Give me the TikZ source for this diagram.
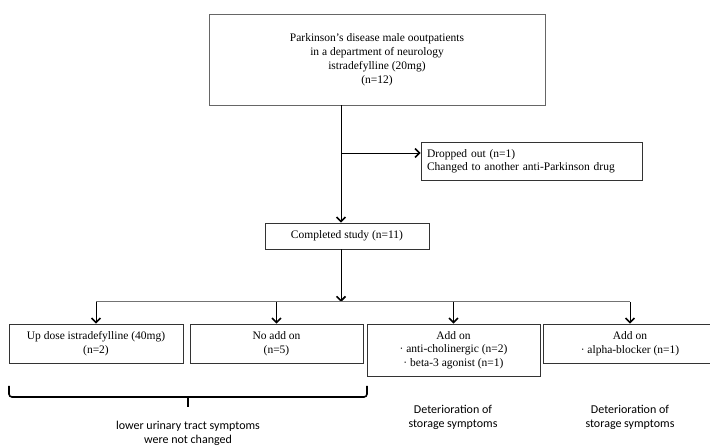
\documentclass[tikz,border=0pt]{standalone}
\usepackage{fontspec}
\setmainfont{Liberation Serif}
\newfontfamily\calibri{Carlito}
\usetikzlibrary{arrows.meta}

\begin{document}
\begin{tikzpicture}[x=1pt, y=-1pt,
  box/.style={draw=black!80, line width=0.7pt, align=center, inner sep=0pt, font=\fontsize{11.5}{14}\selectfont},
  arr/.style={-{Straight Barb[length=4.5pt,width=9pt,line width=1.6pt]}, line width=0.7pt},
  note/.style={align=center, font=\calibri\fontsize{12}{14}\selectfont}]
  \useasboundingbox (0,0) rectangle (710,446);

  \node[box, minimum width=336, minimum height=91, draw=black!60, line width=0.9pt] (pd) at (377,59.5)
    {Parkinson’s disease male ooutpatients\\in a department of neurology\\istradefylline (20mg)\\(n=12)};
  \node[box, minimum width=221, minimum height=38, align=left, text width=209, font=\fontsize{11.5}{13}\selectfont] (drop) at (531.5,161)
    {Dropped out (n=1)\\Changed to another anti-Parkinson drug};
  \node[box, minimum width=164, minimum height=26] (done) at (347,236) {Completed study (n=11)};

  \node[box, minimum width=174, minimum height=39] (updose) at (96,343.5) {Up dose istradefylline (40mg)\\(n=2)};
  \node[box, minimum width=173, minimum height=39] (noadd) at (276.5,343.5) {No add on\\(n=5)};
  \node[box, minimum width=173, minimum height=52, font=\fontsize{11.5}{13.5}\selectfont] (addac) at (453.5,350)
    {Add on\\· anti-cholinergic (n=2)\\· beta-3 agonist (n=1)};
  \node[box, minimum width=174, minimum height=39] (addab) at (630,343.5) {Add on\\· alpha-blocker (n=1)};

  % main line and drop out branch
  \coordinate (split) at (341,153);
  \draw[line width=0.7pt] (pd.south -| split) -- (split);
  \draw[arr] (split) -- (split -| drop.west);
  \draw[arr] (split) -- (done.north -| split);

  % bus to the four groups
  \coordinate (bus) at (341,302);
  \draw[arr] (done.south -| bus) -- (bus);
  \draw[draw=black!55, line width=1pt] (updose.north |- bus) -- (addab.north |- bus);
  \foreach \g in {updose,noadd,addac,addab}
    \draw[arr] (\g.north |- bus) -- (\g.north);

  % brace under first two groups
  \draw[line width=1.6pt, rounded corners=3pt] (9,386) -- (9,397) -- (367,397) -- (367,386);
  \draw[line width=1.6pt] (188,397) -- (188,407);

  \node[note] (same) at (188,433) {lower urinary tract symptoms\\were not changed};
  \node[note] (worse1) at (453,417) {Deterioration of\\storage symptoms};
  \node[note] (worse2) at (630,417) {Deterioration of\\storage symptoms};
\end{tikzpicture}
\end{document}
